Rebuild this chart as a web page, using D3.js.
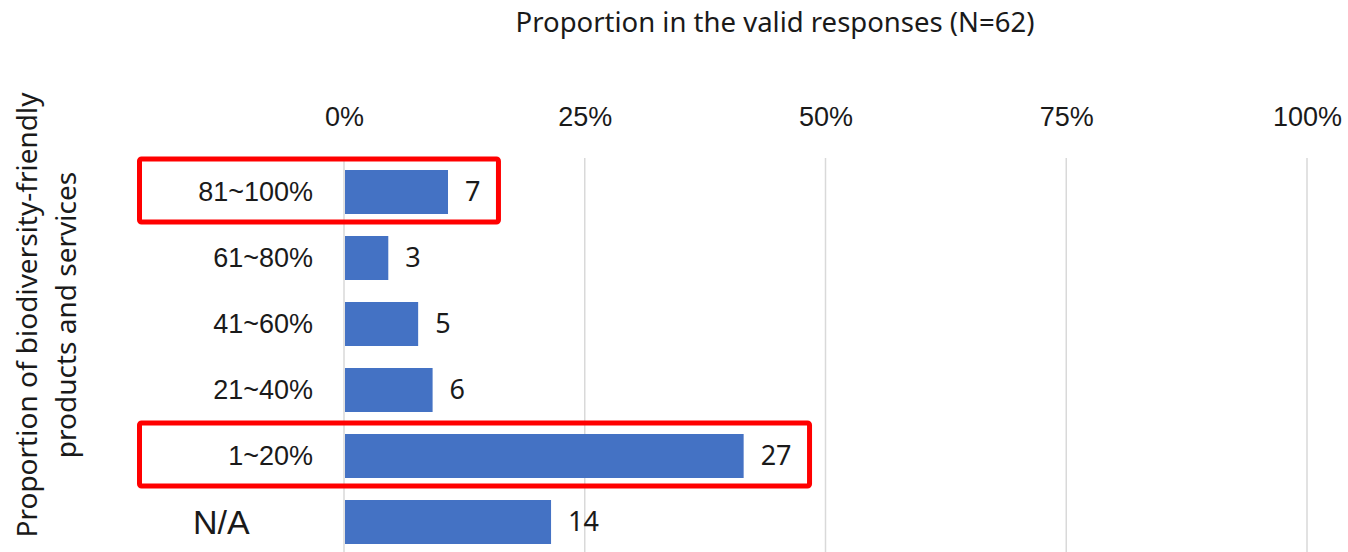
<!DOCTYPE html>
<html>
<head>
<meta charset="utf-8">
<script src="https://cdn.jsdelivr.net/npm/d3@7"></script>
<style>
	body { margin: 0; background: #fff; }
	svg { display: block; font-family: 'Noto Sans', sans-serif; }
	.axis .domain { display: none; }
	.axis text { fill: #1a1a1a; font-size: 27px; }
</style>
</head>
<body>
<div id="viz"></div>
<script>
// categories (top to bottom), counts shown as labels, bar length in percent
const categories = ['81~100%', '61~80%', '41~60%', '21~40%', '1~20%', 'N/A'];
const counts = [7, 3, 5, 6, 27, 14];
const percents = [10.8, 4.6, 7.7, 9.2, 41.5, 21.5];
const xTicks = [0, 25, 50, 75, 100];
const highlighted = ['81~100%', '1~20%'];

const TITLE = 'Proportion in the valid responses (N=62)';
const Y_TITLE = ['Proportion of biodiversity-friendly', 'products and services'];

const WIDTH = 1348, HEIGHT = 552;
const BAR_COLOR = '#4472c4';
const GRID_COLOR = '#d9d9d9';

const data = categories.map((c, i) => ({ cat: c, count: counts[i], pct: percents[i] }));

const svg = d3.select('#viz').append('svg')
	.attr('width', WIDTH)
	.attr('height', HEIGHT);

const xScale = d3.scaleLinear()
	.domain([0, 100])
	.range([344, 1307]);

const yScale = d3.scaleBand()
	.domain(categories)
	.range([159, 555])
	.paddingInner(1 / 3)
	.paddingOuter(1 / 6);

// gridlines
svg.append('g')
	.attr('class', 'grid')
	.selectAll('line')
	.data(xTicks)
	.enter()
	.append('line')
	.attr('x1', (d) => xScale(d))
	.attr('x2', (d) => xScale(d))
	.attr('y1', 158)
	.attr('y2', 555)
	.attr('stroke', GRID_COLOR)
	.attr('stroke-width', 1.5);

// top axis
const xAxis = svg.append('g')
	.attr('class', 'x axis')
	.attr('transform', 'translate(0,117)')
	.call(d3.axisTop(xScale).tickValues(xTicks).tickFormat((d) => d + '%').tickSize(0));
xAxis.selectAll('text').attr('y', 0).attr('dy', '0.35em');

// category axis
const yAxis = svg.append('g')
	.attr('class', 'y axis')
	.attr('transform', 'translate(' + xScale(0) + ',0)')
	.call(d3.axisLeft(yScale).tickSize(0).tickPadding(31));
yAxis.selectAll('text').attr('dy', '0.35em');
yAxis.selectAll('.tick')
	.filter((d) => d === 'N/A')
	.select('text')
	.attr('text-anchor', 'start')
	.attr('x', 193 - xScale(0))
	.style('font-size', '34px');

// bars
svg.append('g')
	.attr('class', 'bars')
	.selectAll('rect')
	.data(data)
	.enter()
	.append('rect')
	.attr('x', xScale(0) + 1)
	.attr('y', (d) => yScale(d.cat))
	.attr('width', (d) => xScale(d.pct) - xScale(0) - 1)
	.attr('height', yScale.bandwidth())
	.attr('fill', BAR_COLOR);

// value labels
const labels = svg.append('g')
	.attr('class', 'labels')
	.selectAll('text')
	.data(data)
	.enter()
	.append('text')
	.attr('x', (d) => xScale(d.pct) + 17)
	.attr('y', (d) => yScale(d.cat) + yScale.bandwidth() / 2)
	.attr('dy', '0.35em')
	.attr('fill', '#1a1a1a')
	.style('font-size', '27px')
	.text((d) => d.count);

// red highlight boxes
const labelEnd = {};
labels.each(function(d) { labelEnd[d.cat] = xScale(d.pct) + 17 + this.getComputedTextLength(); });

svg.append('g')
	.attr('class', 'highlight')
	.selectAll('rect')
	.data(highlighted)
	.enter()
	.append('rect')
	.attr('x', 139.5)
	.attr('y', (d) => yScale(d) - 11)
	.attr('width', (d) => labelEnd[d] + 18 - 139.5)
	.attr('height', yScale.bandwidth() + 19)
	.attr('rx', 2)
	.attr('fill', 'none')
	.attr('stroke', '#ff0000')
	.attr('stroke-width', 5);

// titles
svg.append('text')
	.attr('x', 775)
	.attr('y', 22)
	.attr('dy', '0.35em')
	.attr('text-anchor', 'middle')
	.attr('fill', '#1a1a1a')
	.style('font-size', '27.5px')
	.text(TITLE);

svg.append('g')
	.attr('class', 'y-title')
	.selectAll('text')
	.data(Y_TITLE)
	.enter()
	.append('text')
	.attr('transform', (d, i) => 'translate(' + (37 + i * 39) + ',315) rotate(-90)')
	.attr('text-anchor', 'middle')
	.attr('fill', '#1a1a1a')
	.style('font-size', '28px')
	.text((d) => d);
</script>
</body>
</html>
